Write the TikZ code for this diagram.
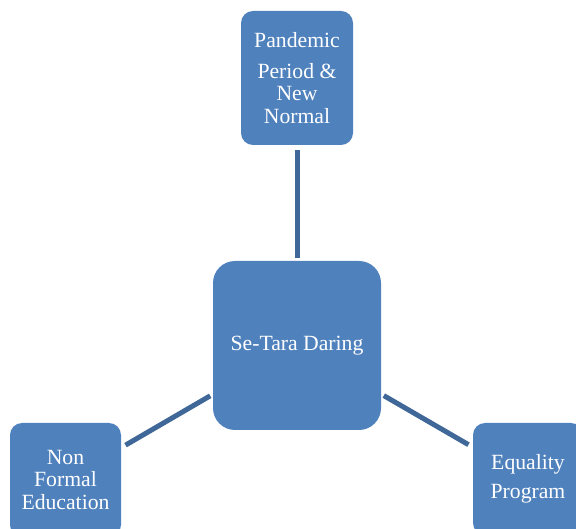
\documentclass[tikz,border=0pt]{standalone}
\usepackage{fontspec}
\setmainfont{Liberation Serif}
\usepackage{xcolor}
\definecolor{bbox}{HTML}{4F81BD}
\definecolor{bline}{HTML}{3F6798}
\usetikzlibrary{positioning}

\begin{document}
\begin{tikzpicture}[x=1pt,y=1pt,
		box/.style={fill=bbox,text=white,rounded corners=12pt,inner sep=0pt,align=center,
			font=\fontsize{21.7}{22.5}\selectfont},
		link/.style={bline,line width=5pt,shorten <=3pt,shorten >=5pt}]
				\useasboundingbox (0,0) rectangle (576,528);
				\clip (0,0) rectangle (576,528);
				\node[box,minimum width=112pt,minimum height=134pt] (pand) at (297,450) {Pandemic\\[8pt]Period \&\\New\\Normal};
				\node[box,minimum width=168pt,minimum height=169pt,rounded corners=22pt] (setara) at (297,182.5) {Se-Tara Daring};
				\node[box,minimum width=111pt,minimum height=114pt] (nfe) at (65.5,48) {Non\\Formal\\Education};
				\node[box,minimum width=110pt,minimum height=112pt] (eqp) at (528,49) {Equality\\[6pt]Program};
				\draw[link] (setara) -- (pand);
				\draw[link] (setara) -- (nfe);
				\draw[link] (setara) -- (eqp);
			\end{tikzpicture}
\end{document}
